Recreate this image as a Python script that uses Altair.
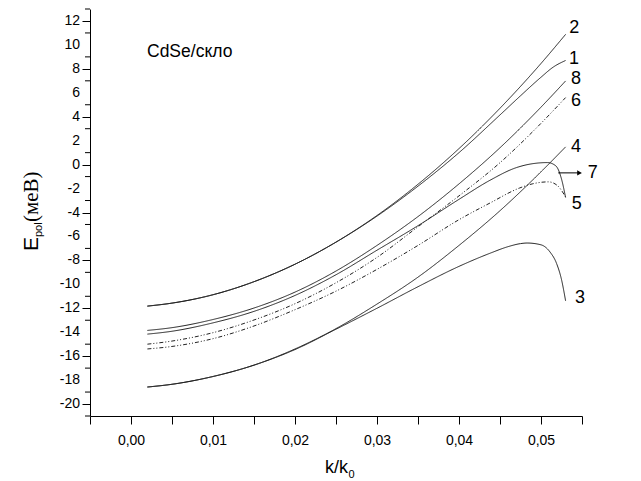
import altair as alt
import pandas as pd

# ---- data ----
k_std = [0.002, 0.005, 0.01, 0.015, 0.02, 0.025, 0.03, 0.035, 0.04, 0.045, 0.05, 0.053]

e2 = [-11.82, -11.57, -10.87, -9.78, -8.32, -6.47, -4.25, -1.64, 1.34, 4.71, 8.45, 10.88]

k1 = [0.002, 0.005, 0.01, 0.015, 0.02, 0.025, 0.03, 0.035, 0.04, 0.045, 0.0475, 0.05, 0.0515, 0.053]
e1 = [-11.82, -11.57, -10.87, -9.78, -8.32, -6.48, -4.3, -1.8, 1.0, 4.15, 5.75, 7.3, 8.15, 8.7]

e8 = [-13.85, -13.62, -12.94, -11.98, -10.65, -8.89, -6.75, -4.34, -1.61, 1.41, 4.8, 6.99]

k7 = [0.002, 0.005, 0.01, 0.015, 0.02, 0.025, 0.03, 0.035, 0.04, 0.0438, 0.047, 0.049, 0.0508, 0.0518, 0.0525, 0.053]
e7 = [-14.16, -13.92, -13.22, -12.26, -10.93, -9.2, -7.15, -5.1, -2.9, -1.3, -0.25, 0.08, 0.17, -0.1, -1.2, -2.75]

e6 = [-15.0, -14.74, -14.04, -12.98, -11.62, -9.87, -7.75, -5.19, -2.61, 0.16, 3.45, 5.6]

k5 = [0.002, 0.005, 0.01, 0.015, 0.02, 0.025, 0.03, 0.035, 0.04, 0.0438, 0.0474, 0.049, 0.0509, 0.052, 0.053]
e5 = [-15.4, -15.19, -14.54, -13.48, -12.12, -10.57, -8.75, -6.75, -4.6, -3.2, -1.95, -1.6, -1.44, -1.75, -2.7]

e4 = [-18.58, -18.35, -17.7, -16.75, -15.4, -13.7, -11.65, -9.4, -6.75, -3.85, -0.6, 1.48]

k3 = [0.002, 0.005, 0.01, 0.015, 0.02, 0.025, 0.03, 0.035, 0.04, 0.0438, 0.046, 0.0475, 0.0483, 0.05, 0.0511, 0.0519, 0.0525, 0.053]
e3 = [-18.58, -18.35, -17.7, -16.75, -15.45, -13.75, -12.0, -10.2, -8.5, -7.4, -6.85, -6.6, -6.55, -6.7, -7.3, -8.26, -9.6, -11.38]

curve_names = ["1", "2", "3", "4", "5", "6", "7", "8"]
curve_styles = ["solid", "solid", "solid", "solid", "dash", "dash", "solid", "solid"]
curve_k = [k1, k_std, k3, k_std, k5, k_std, k7, k_std]
curve_e = [e1, e2, e3, e4, e5, e6, e7, e8]

label_text = ["2", "1", "8", "6", "4", "7", "5", "3"]
label_k = [0.05406, 0.05402, 0.05427, 0.05427, 0.05427, 0.0563, 0.05435, 0.05476]
label_e = [11.41, 8.80, 7.13, 5.32, 1.48, -0.66, -3.25, -11.18]

arrow_k = [0.0521]
arrow_k2 = [0.0547]
arrow_e = [-0.69]

x_ticks = [round(-0.005 + 0.005 * i, 3) for i in range(13)]
y_major = list(range(-20, 13, 2))
y_minor = list(range(-21, 14, 2))

# ---- tables ----
rows = []
for name, style, ks, es in zip(curve_names, curve_styles, curve_k, curve_e):
    for k, e in zip(ks, es):
        rows.append({"curve": name, "style": style, "k": k, "E": e})
df = pd.DataFrame(rows)
labels_df = pd.DataFrame({"t": label_text, "k": label_k, "E": label_e})
arrow_df = pd.DataFrame({"k": arrow_k, "k2": arrow_k2, "E": arrow_e})
minor_df = pd.DataFrame({"E": y_minor})
ylab_df = pd.DataFrame({"E": y_major, "t": [str(v) for v in y_major]})

xscale = alt.Scale(domain=[-0.005, 0.055], nice=False, zero=False)
yscale = alt.Scale(domain=[-21, 13], nice=False, zero=False)

FONT = "Liberation Sans"

xaxis = alt.Axis(
    values=x_ticks,
    labelExpr="abs(round(datum.value*200)) % 2 == 0 ? replace(format(datum.value, '.2f'), '.', ',') : ''",
    title=None, grid=False, tickSize=8, tickColor="black", tickWidth=1,
    domainColor="black", domainWidth=1, labelFont=FONT, labelFontSize=14,
    labelColor="black", labelPadding=9, labelOverlap=False, labelFlush=False,
)
yaxis = alt.Axis(
    values=y_major, labels=False,
    title=None, grid=False, tickSize=8,
    tickColor="black", tickWidth=1,
    domainColor="black", domainWidth=1,
)

lines = alt.Chart(df).mark_line(interpolate="monotone", strokeWidth=1, color="#222222").encode(
    x=alt.X("k:Q", scale=xscale, axis=xaxis),
    y=alt.Y("E:Q", scale=yscale, axis=yaxis),
    detail="curve:N",
    strokeDash=alt.StrokeDash(
        "style:N",
        scale=alt.Scale(domain=["solid", "dash"], range=[[1, 0], [4, 2, 1, 2, 1, 2]]),
        legend=None,
    ),
)

minor_ticks = alt.Chart(minor_df).mark_rule(color="black", strokeWidth=1).encode(
    y=alt.Y("E:Q", scale=yscale), x=alt.value(-5), x2=alt.value(0)
)

y_labels = alt.Chart(ylab_df).mark_text(
    font=FONT, fontSize=14, color="black", align="right", baseline="middle"
).encode(y=alt.Y("E:Q", scale=yscale), x=alt.value(-10), text="t:N")

labels = alt.Chart(labels_df).mark_text(
    font=FONT, fontSize=18, color="black", align="center", baseline="middle"
).encode(x=alt.X("k:Q", scale=xscale), y=alt.Y("E:Q", scale=yscale), text="t:N")

arrow_line = alt.Chart(arrow_df).mark_rule(color="black", strokeWidth=1).encode(
    x=alt.X("k:Q", scale=xscale), x2="k2:Q", y=alt.Y("E:Q", scale=yscale)
)
arrow_head = alt.Chart(arrow_df).mark_point(
    shape="triangle-right", filled=True, color="black", size=30, opacity=1
).encode(x=alt.X("k2:Q", scale=xscale), y=alt.Y("E:Q", scale=yscale))

note = alt.Chart(pd.DataFrame({"t": ["CdSe/скло"]})).mark_text(
    font=FONT, fontSize=17.5, color="black", align="left", baseline="alphabetic"
).encode(x=alt.value(57), y=alt.value(48), text="t:N")

# y title: E_pol(меВ), rotated
yt_E = alt.Chart(pd.DataFrame({"t": ["E"]})).mark_text(
    font=FONT, fontSize=21, color="black", align="left", baseline="middle", angle=270
).encode(x=alt.value(-58), y=alt.value(242), text="t:N")
yt_sub = alt.Chart(pd.DataFrame({"t": ["pol"]})).mark_text(
    font=FONT, fontSize=11, color="black", align="left", baseline="middle", angle=270
).encode(x=alt.value(-51), y=alt.value(228), text="t:N")
yt_unit = alt.Chart(pd.DataFrame({"t": ["(меВ)"]})).mark_text(
    font="Liberation Serif", fontSize=21, color="black", align="left", baseline="middle", angle=270
).encode(x=alt.value(-58), y=alt.value(213), text="t:N")

# x title: k/k0
xt_main = alt.Chart(pd.DataFrame({"t": ["k/k"]})).mark_text(
    font=FONT, fontSize=18, color="black", align="right", baseline="alphabetic"
).encode(x=alt.value(258), y=alt.value(464), text="t:N")
xt_sub = alt.Chart(pd.DataFrame({"t": ["0"]})).mark_text(
    font=FONT, fontSize=11, color="black", align="left", baseline="alphabetic"
).encode(x=alt.value(258.5), y=alt.value(469), text="t:N")

chart = alt.layer(
    lines, minor_ticks, y_labels, labels, arrow_line, arrow_head, note,
    yt_E, yt_sub, yt_unit, xt_main, xt_sub
).properties(
    width=492, height=407,
    autosize=alt.AutoSizeParams(type="none"),
    padding={"left": 82, "top": 1, "right": 51, "bottom": 65},
).configure_view(stroke=None)

chart.save("out.html", embed_options={"renderer": "svg", "actions": False})
